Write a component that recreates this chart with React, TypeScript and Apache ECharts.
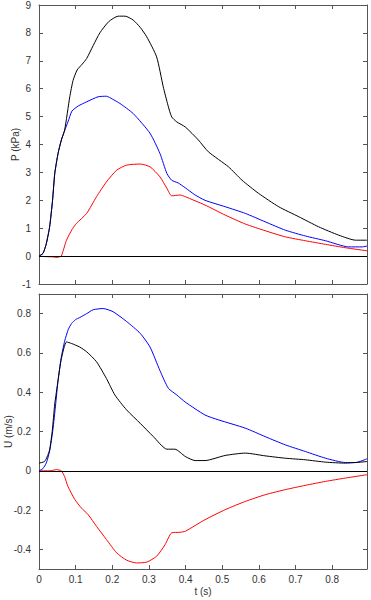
import React, { useEffect, useRef } from "react";
import * as echarts from "echarts";

// Pressure (kPa) vs time (s)
const pBlack: [number, number][] = [
  [0, 0], [0.011, 0.1], [0.02, 0.45], [0.029, 1.05], [0.037, 2.0], [0.043, 2.96], [0.052, 3.68],
  [0.061, 4.16], [0.07, 4.52], [0.084, 5.71], [0.093, 6.3], [0.104, 6.67], [0.118, 6.88],
  [0.13, 7.08], [0.148, 7.55], [0.166, 8.0], [0.19, 8.4], [0.216, 8.6], [0.235, 8.6],
  [0.257, 8.46], [0.276, 8.2], [0.294, 7.86], [0.321, 7.14], [0.339, 6.07], [0.352, 5.4],
  [0.362, 4.99], [0.376, 4.81], [0.399, 4.63], [0.435, 4.16], [0.462, 3.74], [0.517, 3.2],
  [0.554, 2.72], [0.599, 2.25], [0.654, 1.77], [0.709, 1.41], [0.763, 1.05], [0.818, 0.75],
  [0.864, 0.57], [0.895, 0.57],
];
const pBlue: [number, number][] = [
  [0, 0], [0.011, 0.1], [0.02, 0.45], [0.029, 1.05], [0.037, 2.0], [0.043, 2.96], [0.052, 3.68],
  [0.061, 4.16], [0.07, 4.5], [0.079, 4.81], [0.09, 5.2], [0.107, 5.38], [0.13, 5.53],
  [0.161, 5.71], [0.184, 5.73], [0.2, 5.63], [0.221, 5.47], [0.257, 5.11], [0.303, 4.4],
  [0.33, 3.68], [0.349, 2.96], [0.362, 2.72], [0.38, 2.62], [0.399, 2.45], [0.425, 2.2],
  [0.453, 2.0], [0.508, 1.77], [0.563, 1.53], [0.617, 1.23], [0.672, 0.93], [0.727, 0.72],
  [0.782, 0.55], [0.845, 0.33], [0.882, 0.33], [0.895, 0.36],
];
const pRed: [number, number][] = [
  [0, 0], [0.02, -0.02], [0.04, -0.03], [0.048, -0.05], [0.055, -0.03], [0.061, 0],
  [0.075, 0.57], [0.09, 0.95], [0.102, 1.17], [0.13, 1.53], [0.157, 2.13], [0.184, 2.66],
  [0.212, 3.08], [0.239, 3.26], [0.276, 3.3], [0.303, 3.2], [0.33, 2.84], [0.349, 2.43],
  [0.362, 2.16], [0.385, 2.19], [0.399, 2.13], [0.453, 1.83], [0.508, 1.47], [0.563, 1.15],
  [0.617, 0.91], [0.672, 0.69], [0.727, 0.55], [0.782, 0.42], [0.836, 0.3], [0.895, 0.19],
];

// Velocity (m/s) vs time (s)
const uBlue: [number, number][] = [
  [0, 0], [0.01, 0.01], [0.02, 0.04], [0.029, 0.1], [0.038, 0.21], [0.045, 0.33], [0.052, 0.46],
  [0.06, 0.57], [0.07, 0.66], [0.08, 0.72], [0.089, 0.75], [0.1, 0.77], [0.111, 0.78],
  [0.13, 0.8], [0.148, 0.82], [0.175, 0.826], [0.202, 0.81], [0.239, 0.76], [0.276, 0.7],
  [0.303, 0.63], [0.33, 0.51], [0.353, 0.42], [0.376, 0.386], [0.399, 0.35], [0.453, 0.284],
  [0.49, 0.259], [0.563, 0.217], [0.617, 0.174], [0.672, 0.132], [0.727, 0.098],
  [0.782, 0.064], [0.836, 0.042], [0.864, 0.042], [0.895, 0.061],
];
const uBlack: [number, number][] = [
  [0, 0.039], [0.015, 0.047], [0.022, 0.07], [0.029, 0.107], [0.036, 0.2], [0.043, 0.34],
  [0.052, 0.46], [0.061, 0.57], [0.075, 0.656], [0.089, 0.648], [0.111, 0.63], [0.13, 0.606],
  [0.157, 0.555], [0.184, 0.47], [0.207, 0.386], [0.239, 0.31], [0.276, 0.242], [0.312, 0.174],
  [0.349, 0.11], [0.371, 0.11], [0.399, 0.073], [0.426, 0.052], [0.453, 0.052], [0.508, 0.078],
  [0.563, 0.09], [0.617, 0.076], [0.672, 0.064], [0.727, 0.056], [0.782, 0.044],
  [0.836, 0.039], [0.895, 0.047],
];
const uRed: [number, number][] = [
  [0, 0], [0.03, 0.0], [0.048, 0.006], [0.055, 0.004], [0.061, 0], [0.07, -0.03],
  [0.079, -0.08], [0.098, -0.147], [0.116, -0.19], [0.134, -0.223], [0.157, -0.283],
  [0.184, -0.35], [0.212, -0.418], [0.239, -0.455], [0.266, -0.469], [0.294, -0.465],
  [0.321, -0.435], [0.344, -0.376], [0.362, -0.316], [0.385, -0.313], [0.399, -0.308],
  [0.453, -0.249], [0.508, -0.198], [0.563, -0.156], [0.617, -0.122], [0.672, -0.096],
  [0.727, -0.074], [0.782, -0.054], [0.836, -0.037], [0.895, -0.02],
];

const T_MAX = 0.895;
const FONT = "'Liberation Sans', Arial, sans-serif";
const FRAME = "#555";
const TEXT = "#333";

function xAx(gridIndex: number, position: "top" | "bottom", labels: boolean, name?: string) {
  return {
    type: "value",
    gridIndex,
    position,
    min: 0,
    max: T_MAX,
    interval: 0.1,
    name: name || "",
    nameLocation: "middle",
    nameGap: 17,
    nameMoveOverlap: false,
    nameTextStyle: { color: TEXT, fontSize: 10, fontFamily: FONT },
    axisLine: { show: true, onZero: false, lineStyle: { color: FRAME, width: 1 } },
    axisTick: { show: true, inside: true, length: 4, lineStyle: { color: FRAME } },
    axisLabel: { show: labels, showMaxLabel: false, margin: 5, color: TEXT, fontSize: 10, fontFamily: FONT },
    splitLine: { show: false },
  };
}

function yAx(gridIndex: number, position: "left" | "right", labels: boolean, range: any, name?: string) {
  return {
    type: "value",
    gridIndex,
    position,
    min: range.min,
    max: range.max,
    interval: range.interval,
    splitNumber: range.splitNumber,
    name: name || "",
    nameLocation: "middle",
    nameGap: range.nameGap || 20,
    nameMoveOverlap: false,
    nameTextStyle: { color: TEXT, fontSize: 10, fontFamily: FONT },
    axisLine: { show: true, onZero: false, lineStyle: { color: FRAME, width: 1 } },
    axisTick: { show: true, inside: true, length: 4, lineStyle: { color: FRAME } },
    axisLabel: {
      show: labels, showMinLabel: range.showMin, showMaxLabel: range.showMax,
      margin: 8, color: TEXT, fontSize: 10, fontFamily: FONT,
    },
    splitLine: { show: false },
  };
}

const zeroLine = {
  silent: true,
  symbol: ["none", "none"],
  label: { show: false },
  lineStyle: { color: "#000", type: "solid", width: 1 },
  data: [{ yAxis: 0 }],
};

function line(data: [number, number][], color: string, xi: number, yi: number, extra: any = {}) {
  return {
    type: "line",
    data,
    xAxisIndex: xi,
    yAxisIndex: yi,
    showSymbol: false,
    smooth: 0.2,
    lineStyle: { color, width: 1 },
    itemStyle: { color },
    ...extra,
  };
}

export default function App() {
  const ref = useRef<HTMLDivElement>(null);
  useEffect(() => {
    if (!ref.current) return;
    const chart = echarts.init(ref.current, null, { renderer: "svg" });
    chart.setOption({
      animation: false,
      backgroundColor: "#fff",
      grid: [
        { left: 39, top: 5, width: 328, height: 279, containLabel: false, outerBoundsMode: "none" },
        { left: 39, top: 294, width: 328, height: 275, containLabel: false, outerBoundsMode: "none" },
      ],
      xAxis: [
        xAx(0, "bottom", false),
        xAx(0, "top", false),
        xAx(1, "bottom", true, "t (s)"),
        xAx(1, "top", false),
      ],
      yAxis: [
        yAx(0, "left", true, { min: -1, max: 9, interval: 1, showMin: true, showMax: true, nameGap: 19 }, "P (kPa)"),
        yAx(0, "right", false, { min: -1, max: 9, interval: 1, showMin: true, showMax: true }),
        yAx(1, "left", true, { min: -0.5, max: 0.9, splitNumber: 7, showMin: false, showMax: false, nameGap: 26 }, "U (m/s)"),
        yAx(1, "right", false, { min: -0.5, max: 0.9, splitNumber: 7, showMin: false, showMax: false }),
      ],
      series: [
        line(pRed, "#ff0000", 0, 0, { markLine: zeroLine }),
        line(pBlue, "#0000ff", 0, 0),
        line(pBlack, "#000000", 0, 0),
        line(uRed, "#ff0000", 2, 2, { markLine: zeroLine }),
        line(uBlue, "#0000ff", 2, 2),
        line(uBlack, "#000000", 2, 2),
      ],
    });
    return () => chart.dispose();
  }, []);
  return (
    <div
      ref={ref}
      style={{ position: "fixed", left: 0, top: 0, width: 371, height: 600, background: "#fff" }}
    />
  );
}
